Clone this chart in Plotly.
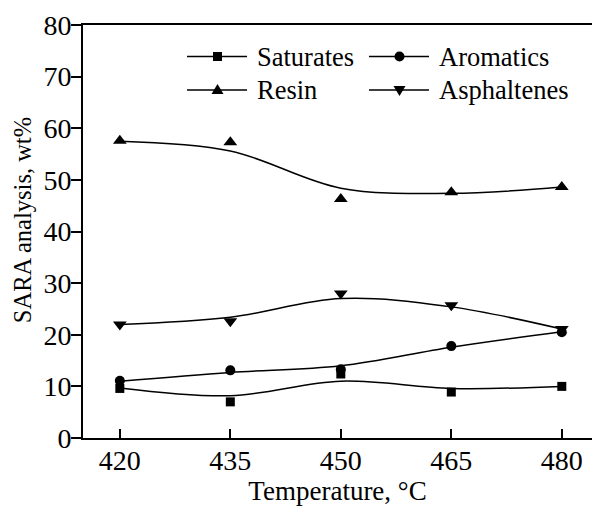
import plotly.graph_objects as go

temps = [420, 435, 450, 465, 480]

# measured points
saturates = [9.6, 7.0, 12.4, 8.9, 10.0]
aromatics = [11.1, 13.1, 13.3, 17.8, 20.5]
resin = [57.6, 57.3, 46.3, 47.6, 48.6]
asphaltenes = [22.0, 22.6, 28.0, 25.7, 21.1]

# smoothed curve values read at each temperature
saturates_fit = [9.7, 8.2, 11.0, 9.6, 10.0]
aromatics_fit = [11.0, 12.7, 14.0, 17.6, 20.6]
resin_fit = [57.5, 55.6, 48.4, 47.4, 48.6]
asphaltenes_fit = [22.0, 23.4, 27.0, 25.4, 21.1]

names = ["Saturates", "Aromatics", "Resin", "Asphaltenes"]
symbols = ["square", "circle", "triangle-up", "triangle-down"]
sizes = [9, 10, 12, 12]
points = [saturates, aromatics, resin, asphaltenes]
fits = [saturates_fit, aromatics_fit, resin_fit, asphaltenes_fit]

FONT = "Liberation Serif"
fig = go.Figure()
for name, sym, sz, pts, fit in zip(names, symbols, sizes, points, fits):
    fig.add_trace(go.Scatter(x=temps, y=fit, mode="lines",
                             line=dict(color="black", width=1.5, shape="spline", smoothing=1.0),
                             showlegend=False, hoverinfo="skip"))
    fig.add_trace(go.Scatter(x=temps, y=pts, mode="markers",
                             marker=dict(symbol=sym, size=sz, color="black"),
                             showlegend=False, name=name))

# ---- hand-built legend (2 x 2) in paper coordinates ----
W_PLOT = 509.0
H_PLOT = 412.7
def px_x(p):
    return (p - 83) / W_PLOT
def px_y(p):
    return (437.7 - p) / H_PLOT

legend_cols = [187, 369]
legend_rows = [56.5, 90]
marker_paths = {
    "square": "M-4.5,-4.5 L4.5,-4.5 L4.5,4.5 L-4.5,4.5 Z",
    "circle": None,
    "triangle-up": "M-6,-4 L6,-4 L0,6 Z",
    "triangle-down": "M-6,4 L6,4 L0,-6 Z",
}
for i, (name, sym) in enumerate(zip(names, symbols)):
    cx = legend_cols[i % 2]
    cy = legend_rows[i // 2]
    y = px_y(cy)
    fig.add_shape(type="line", xref="paper", yref="paper",
                  x0=px_x(cx), x1=px_x(cx + 60), y0=y, y1=y,
                  line=dict(color="black", width=1.5))
    mx = px_x(cx + 30.5)
    if sym == "circle":
        fig.add_shape(type="circle", xref="paper", yref="paper",
                      xsizemode="pixel", ysizemode="pixel", xanchor=mx, yanchor=y,
                      x0=-5, x1=5, y0=-5, y1=5,
                      fillcolor="black", line=dict(width=0))
    else:
        fig.add_shape(type="path", xref="paper", yref="paper",
                      xsizemode="pixel", ysizemode="pixel", xanchor=mx, yanchor=y,
                      path=marker_paths[sym], fillcolor="black", line=dict(width=0))
    fig.add_annotation(text=name, xref="paper", yref="paper", x=px_x(cx + 68), y=y,
                       xanchor="left", yanchor="middle", showarrow=False,
                       font=dict(family=FONT, size=26.5, color="black"))

# y axis title placed as annotation
fig.add_annotation(text="SARA analysis, wt%", xref="paper", yref="paper",
                   x=px_x(22), y=px_y(220), textangle=-90, showarrow=False,
                   xanchor="center", yanchor="middle",
                   font=dict(family=FONT, size=24.5, color="black"))

fig.update_layout(
    width=592, height=508,
    margin=dict(l=83, r=0, t=25, b=70),
    paper_bgcolor="white", plot_bgcolor="white",
    font=dict(family=FONT, size=26, color="black"),
    showlegend=False,
    xaxis=dict(range=[415, 484.1], tickvals=temps, ticks="inside", ticklen=9,
               tickwidth=1.5, tickcolor="black", showline=True, linecolor="black",
               linewidth=2, mirror=True, showgrid=False, zeroline=False,
               title=dict(text="Temperature, °C", font=dict(size=27), standoff=6),
               tickfont=dict(size=28), ticklabelstandoff=-4),
    yaxis=dict(range=[0, 80], dtick=10, ticks="outside", ticklen=10,
               tickwidth=1.5, tickcolor="black", showline=True, linecolor="black",
               linewidth=2, mirror=False, showgrid=False, zeroline=False,
               tickfont=dict(size=28), ticklabelstandoff=-6),
)

fig.write_html("out.html")
